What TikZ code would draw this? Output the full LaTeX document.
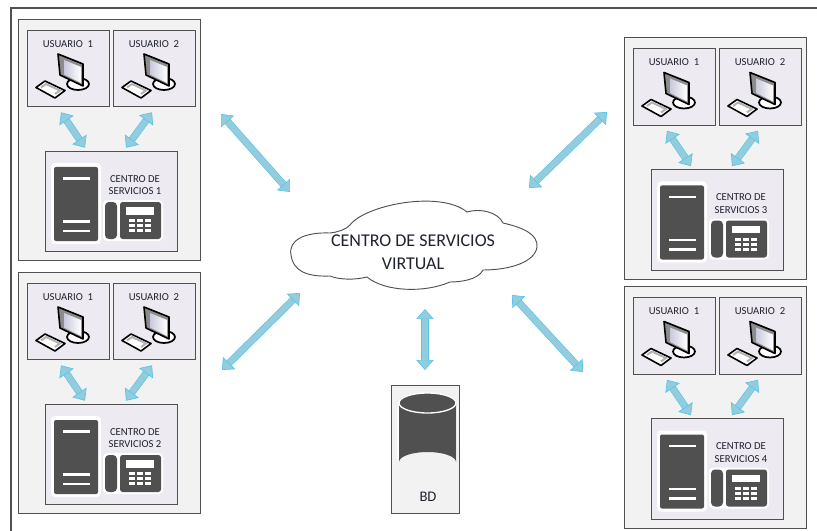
\documentclass[tikz,border=0pt]{standalone}
\usepackage{fontspec}
\setmainfont{Carlito}
\usetikzlibrary{arrows.meta}
\definecolor{borde}{HTML}{505050}
\definecolor{oscuro}{HTML}{505050}
\definecolor{gris}{HTML}{F2F2F2}
\definecolor{lila}{HTML}{EEEAF2}
\definecolor{azul}{HTML}{93CDDD}
\definecolor{celeste}{HTML}{5CC4E8}
\definecolor{tinta}{HTML}{20222E}
\tikzset{
  caja/.style={draw=borde, fill=gris, line width=0.7pt, minimum width=137pt, minimum height=181pt, inner sep=0pt},
  cajausr/.style={draw=borde, fill=lila, line width=0.7pt, minimum width=61.5pt, minimum height=57.5pt, inner sep=0pt},
  cajasrv/.style={draw=borde, fill=lila, line width=0.7pt, minimum width=99pt, minimum height=75.5pt, inner sep=0pt},
  texto/.style={text=tinta, font=\fontsize{8}{9.6}\selectfont, align=center, inner sep=0pt},
  flecha/.style={draw=celeste, double=azul, double distance=4.4pt, line width=0.5pt,
    {Triangle[fill=azul, color=celeste, length=7.5pt, width=13pt, line width=0.5pt]}-{Triangle[fill=azul, color=celeste, length=7.5pt, width=13pt, line width=0.5pt]}}
}
% icono del usuario
\newcommand{\pcicono}[1]{
  \begin{scope}[shift={(#1,0)}]
    \draw[black, fill=white, line width=1.3pt] (78,84) ellipse (11 and 6);
    \draw[black, fill=white, line width=1.2pt, line join=round] (36,87.5) -- (45,81) -- (65,90.5) -- (55,98) -- cycle;
    \draw[gray!60, line width=1.5pt] (41,87.5) -- (46,84) -- (60,90.5) -- (55,94);
    \draw[black, fill=black!45, line width=1.2pt, line join=round] (58,54) -- (83,64) -- (83,86) -- (60,75) -- cycle;
    \shade[left color=blue!22!gray!35, right color=white] (64,60) -- (81,67) -- (81,83) -- (64,74.5) -- cycle;
  \end{scope}
}
% icono del servidor y el telefono
\newcommand{\srvicono}{
  \fill[white, rounded corners=3pt] (51,163) rectangle (101,244);
  \fill[oscuro, rounded corners=1.5pt] (54,167) rectangle (98,241);
  \foreach \yy in {177,220,229.5} \fill[white] (63,\yy) rectangle (90,\yy+2.7);
  \fill[white, rounded corners=3pt] (103,200) rectangle (163,241);
  \fill[oscuro, rounded corners=3pt] (105,202) rectangle (117,239);
  \fill[oscuro, rounded corners=2pt] (120,202) rectangle (161,239);
  \fill[white] (126,207) rectangle (154,214.5);
  \foreach \xx in {129,137,145} \foreach \yy in {219,224,229} \fill[white] (\xx,\yy) rectangle (\xx+6,\yy+3);
}
\begin{document}
\begin{tikzpicture}[x=0.75pt, y=-0.75pt]
  \useasboundingbox (0,0) rectangle (817,531);
  \draw[borde, line width=0.8pt] (11,531) -- (11,8) -- (817,8);
  % los cuatro centros
  \foreach \n/\dx/\dy in {1/0/0, 2/0/253, 3/606/18.5, 4/606/267.5} {
    \begin{scope}[shift={(\dx,\dy)}]
      \node[caja] (g\n) at (109.5,140) {};
      \node[cajausr] (u\n a) at (68,68.5) {};
      \node[cajausr] (u\n b) at (154,68.5) {};
      \node[cajasrv] (s\n) at (111,201.5) {};
      \node[texto] (lu\n a) at (68,44) {USUARIO\ \ 1};
      \node[texto] (lu\n b) at (154,44) {USUARIO\ \ 2};
      \pcicono{0}
      \pcicono{86}
      \srvicono
      \node[texto] (ls\n) at (135,185) {CENTRO DE\\SERVICIOS \n};
      \draw[flecha] ([shift={(-7,5)}]u\n a.south) -- ([shift={(-26,-3)}]s\n.north);
      \draw[flecha] ([shift={(-2,5)}]u\n b.south) -- ([shift={(15,-3)}]s\n.north);
    \end{scope}
  }
  % la nube
  \draw[borde, fill=white, line width=0.7pt]
    (291,255) .. controls (288,240) and (305,232) .. (330,233)
    .. controls (338,232) and (345,230) .. (350,225)
    .. controls (365,205) and (440,190) .. (467,212)
    .. controls (480,208) and (498,212) .. (503,223)
    .. controls (525,228) and (538,235) .. (537,247)
    .. controls (535,262) and (510,270) .. (483,270)
    .. controls (478,280) and (460,282) .. (450,282)
    .. controls (425,293) and (385,292) .. (367,277)
    .. controls (355,280) and (340,280) .. (330,276)
    .. controls (305,277) and (293,270) .. (291,255) -- cycle;
  \node[text=tinta, font=\fontsize{13.5}{17}\selectfont, align=center, inner sep=0pt] (nube) at (413,252) {CENTRO DE SERVICIOS\\VIRTUAL};
  % la base de datos
  \node[caja, minimum width=51pt, minimum height=96.5pt] (bd) at (425.5,449.5) {};
  \fill[white] (397,403) -- (397,462) arc[start angle=180, end angle=360, x radius=30, y radius=13] -- (458,403) arc[start angle=0, end angle=180, x radius=30.5, y radius=13] -- cycle;
  \fill[oscuro] (399,403) -- (399,462) arc[start angle=180, end angle=360, x radius=28.5, y radius=10] -- (456,403) arc[start angle=360, end angle=180, x radius=28.5, y radius=10] -- cycle;
  \draw[white, line width=1pt, fill=oscuro] (427.5,403) ellipse (28.5 and 10);
  \node[text=tinta, font=\fontsize{11}{13}\selectfont, inner sep=0pt] (lbd) at (428,497) {BD};
  % flechas a la nube
  \coordinate (a1) at (221,114);
  \coordinate (n1) at (290,192);
  \coordinate (a3) at (607,112);
  \coordinate (n3) at (529,188);
  \coordinate (a2) at (222,370);
  \coordinate (n2) at (300,293);
  \coordinate (a4) at (583,372);
  \coordinate (n4) at (512,295);
  \coordinate (nb) at (425,309);
  \coordinate (ab) at (425,370);
  \draw[flecha] (a1) -- (n1);
  \draw[flecha] (a3) -- (n3);
  \draw[flecha] (a2) -- (n2);
  \draw[flecha] (a4) -- (n4);
  \draw[flecha] (nb) -- (ab);
\end{tikzpicture}
\end{document}
